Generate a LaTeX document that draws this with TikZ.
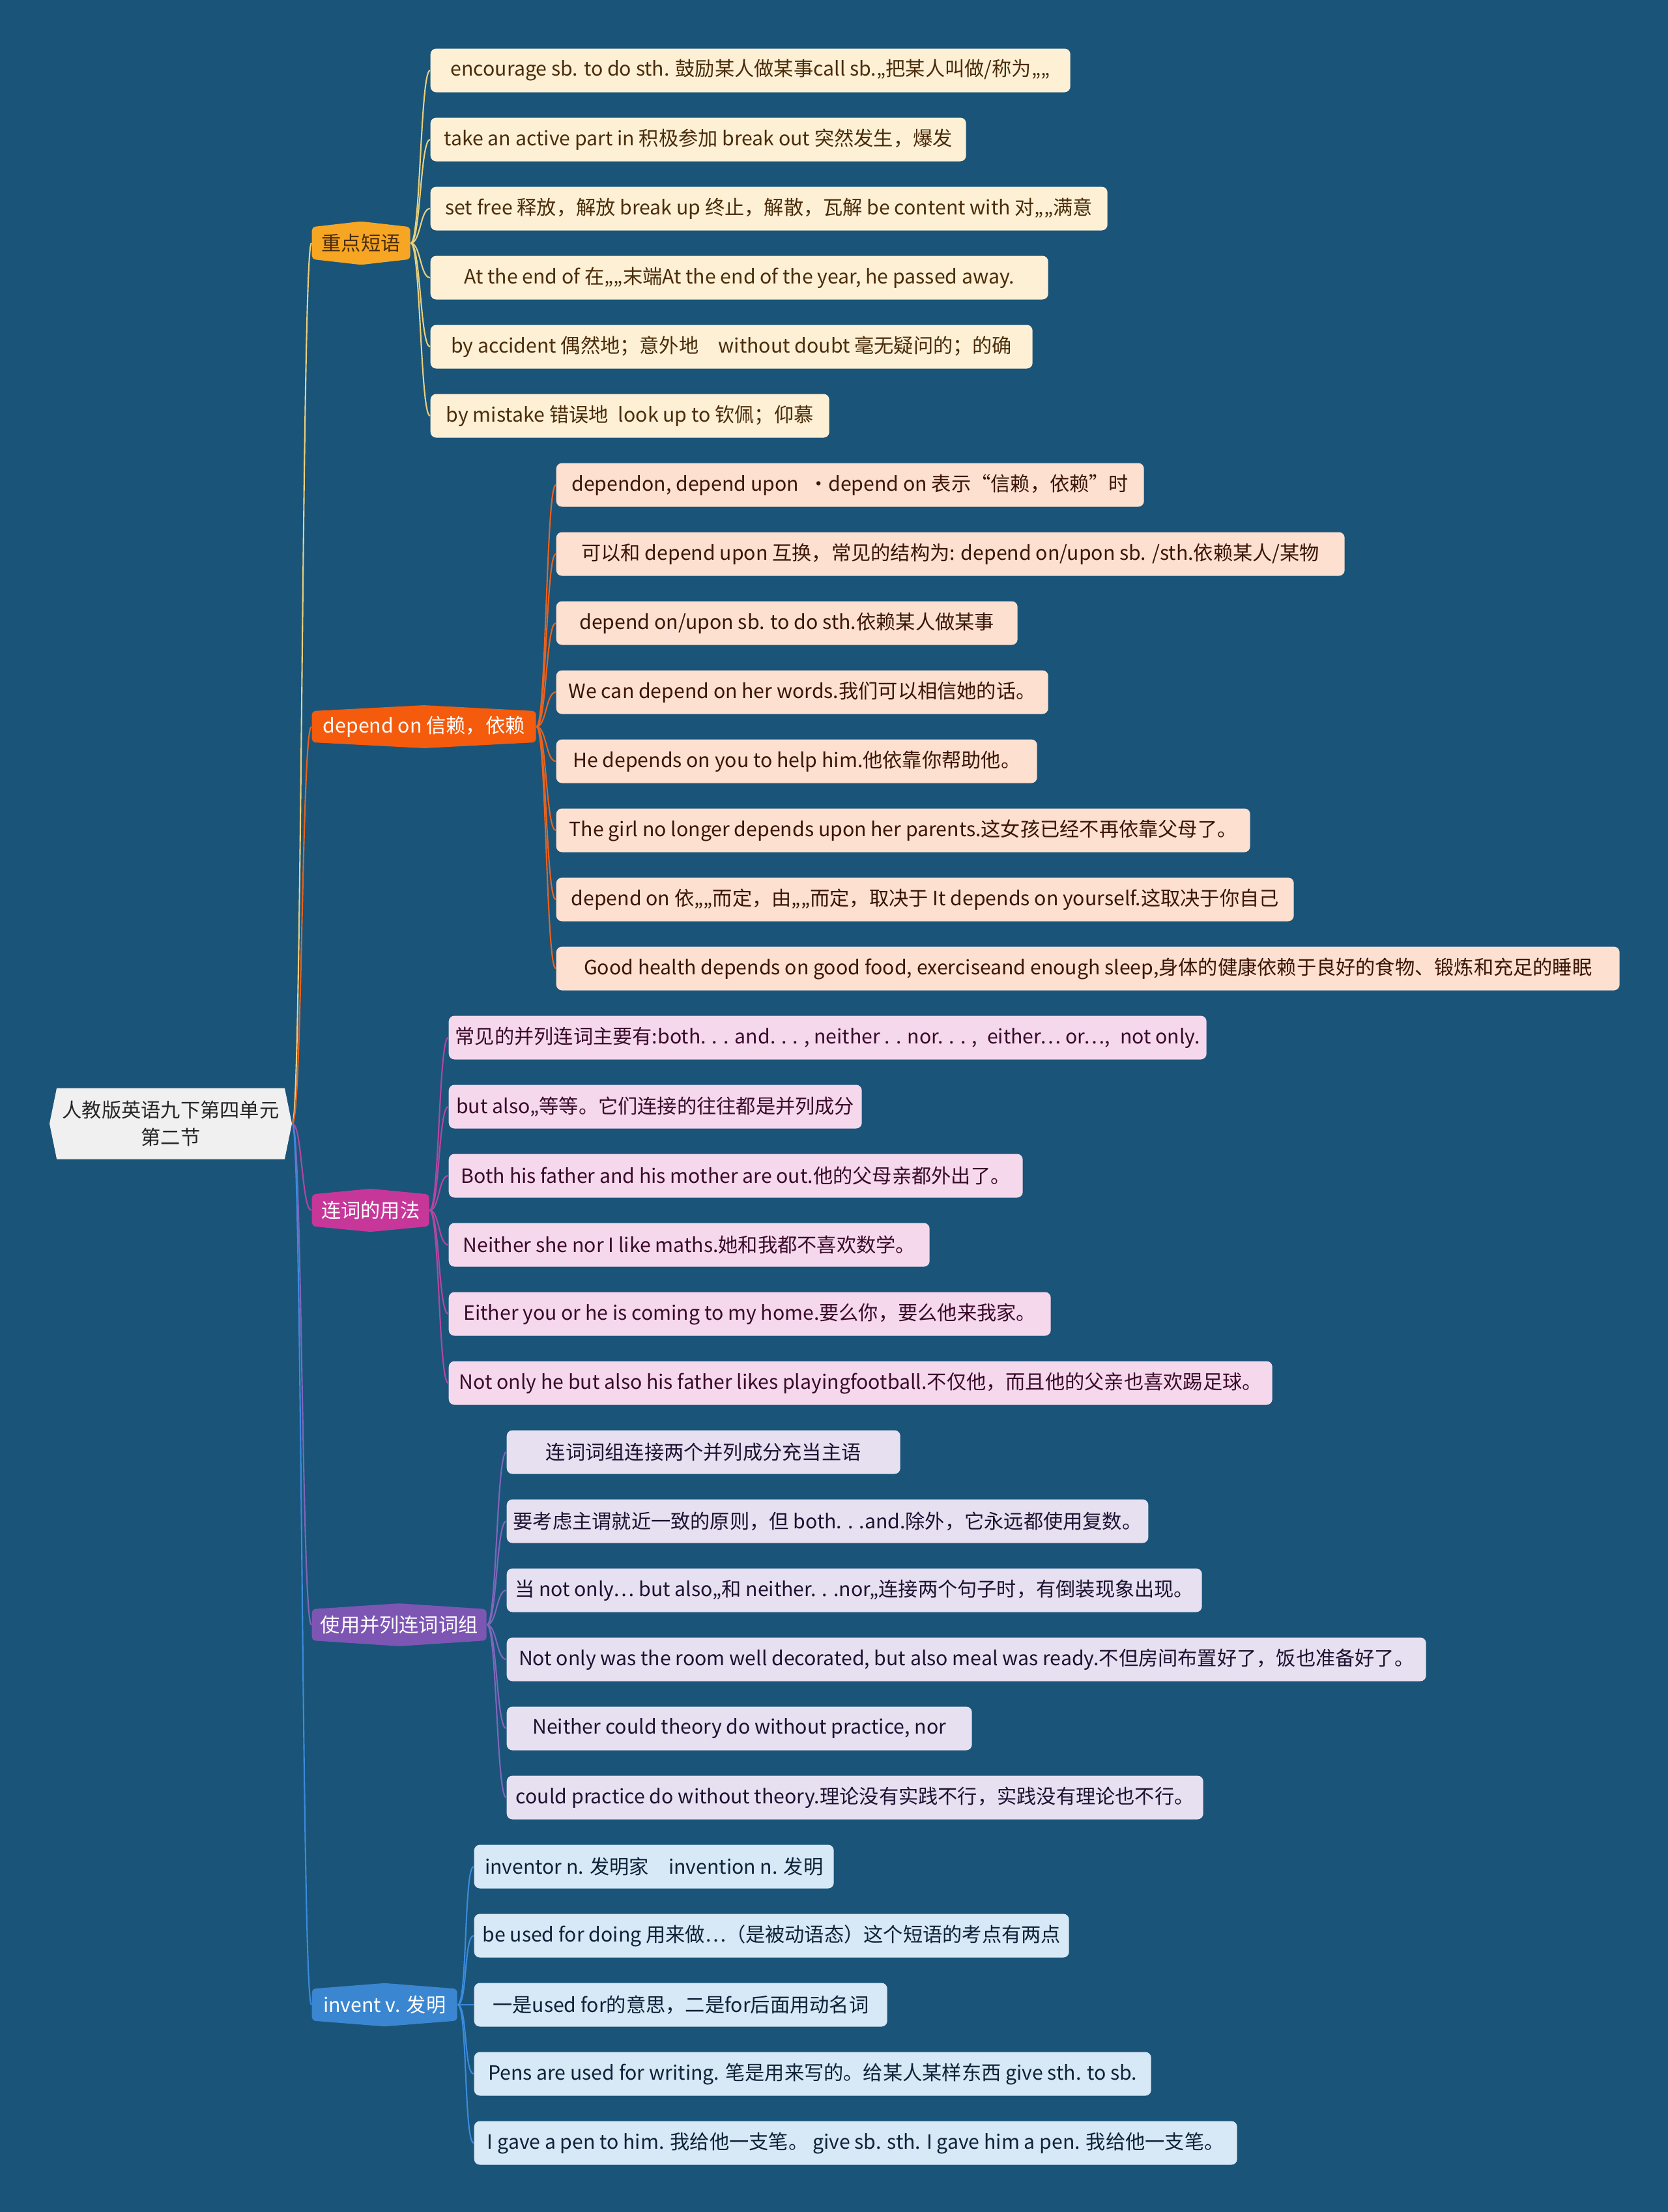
\documentclass[tikz,border=0pt]{standalone}
\usepackage{fontspec}
\setmainfont{Noto Sans CJK SC}
\usepackage{xcolor}
\usetikzlibrary{shapes.symbols, backgrounds}

\definecolor{bgblue}{HTML}{1A5479}
\definecolor{rootgray}{HTML}{F0F0F0}
\definecolor{cA}{HTML}{F6A623}\definecolor{lA}{HTML}{FDF0D5}\definecolor{tA}{HTML}{4A2C0A}\definecolor{wA}{HTML}{E8CF7E}
\definecolor{cB}{HTML}{F45B0C}\definecolor{lB}{HTML}{FDE0D0}\definecolor{tB}{HTML}{3B1505}\definecolor{wB}{HTML}{E8621F}
\definecolor{cC}{HTML}{C7379A}\definecolor{lC}{HTML}{F5D8EC}\definecolor{tC}{HTML}{3A0A2A}\definecolor{wC}{HTML}{B3479F}
\definecolor{cD}{HTML}{7D56B4}\definecolor{lD}{HTML}{E6E0F1}\definecolor{tD}{HTML}{1D1230}\definecolor{wD}{HTML}{7F66BC}
\definecolor{cE}{HTML}{3B86D0}\definecolor{lE}{HTML}{D7E8F6}\definecolor{tE}{HTML}{0D2238}\definecolor{wE}{HTML}{3B8BDC}

\begin{document}
\begin{tikzpicture}[
    root/.style={signal, signal from=nowhere, signal to=west and east, signal pointer angle=157, fill=rootgray, text=black!85, align=center, minimum width=3.72cm, minimum height=1.09cm, inner sep=0pt, font=\fontsize{8.6}{12}\selectfont},
    topic/.style={signal, signal from=nowhere, signal to=north and south, anchor=west, rounded corners=1.5pt, minimum height=0.65cm, inner xsep=0.08cm, inner ysep=0pt, text=white, font=\fontsize{8.6}{10}\selectfont},
    leaf/.style={rectangle, rounded corners=2.5pt, anchor=west, minimum height=0.67cm, inner xsep=0.1cm, font=\fontsize{8.6}{10}\selectfont},
    leafA/.style={leaf, fill=lA, text=tA}, leafB/.style={leaf, fill=lB, text=tB},
    leafC/.style={leaf, fill=lC, text=tC}, leafD/.style={leaf, fill=lD, text=tD},
    leafE/.style={leaf, fill=lE, text=tE},
    link/.style={draw=#1, line width=0.6pt}]

    % background, fixes the page size
    \fill[bgblue] (0,0) rectangle (25.60,-33.94);

    % root and main topics
    \node[root] (root) at (2.62,-17.24) {人教版英语九下第四单元\\第二节};
    \node[topic, fill=cA, text=tA, signal pointer angle=167, minimum width=1.51cm] (phr) at (4.78,-3.73) {重点短语};
    \node[topic, fill=cB, signal pointer angle=174, minimum width=3.44cm] (dep) at (4.78,-11.15) {depend on 信赖，依赖};
    \node[topic, fill=cC, signal pointer angle=169, minimum width=1.80cm] (conj) at (4.78,-18.57) {连词的用法};
    \node[topic, fill=cD, signal pointer angle=172.5, minimum width=2.68cm] (pair) at (4.78,-24.93) {使用并列连词词组};
    \node[topic, fill=cE, signal pointer angle=171, minimum width=2.23cm] (inv) at (4.78,-30.76) {invent v. 发明};

    \draw[link=wA] (root.east) .. controls +(0.15,0) and +(-0.15,0) .. (phr.west);
    \draw[link=wB] (root.east) .. controls +(0.15,0) and +(-0.15,0) .. (dep.west);
    \draw[link=wC] (root.east) .. controls +(0.15,0) and +(-0.15,0) .. (conj.west);
    \draw[link=wD] (root.east) .. controls +(0.15,0) and +(-0.15,0) .. (pair.west);
    \draw[link=wE] (root.east) .. controls +(0.15,0) and +(-0.15,0) .. (inv.west);

    % 重点短语
    \node[leafA, minimum width=9.82cm] (phr1) at (6.60,-1.08) {encourage sb. to do sth. 鼓励某人做某事call sb.„把某人叫做/称为„„};
    \node[leafA, minimum width=8.22cm] (phr2) at (6.60,-2.14) {take an active part in 积极参加 break out 突然发生，爆发};
    \node[leafA, minimum width=10.39cm] (phr3) at (6.60,-3.20) {set free 释放，解放 break up 终止，解散，瓦解 be content with 对„„满意};
    \node[leafA, minimum width=9.48cm] (phr4) at (6.60,-4.26) {At the end of 在„„末端At the end of the year, he passed away.};
    \node[leafA, minimum width=9.24cm] (phr5) at (6.60,-5.32) {by accident 偶然地；意外地\quad without doubt 毫无疑问的；的确};
    \node[leafA, minimum width=6.12cm] (phr6) at (6.60,-6.38) {by mistake 错误地\enspace look up to 钦佩；仰慕};
    \draw[link=wA] (phr.east) .. controls +(0.15,0) and +(-0.15,0) .. (phr1.west);
    \draw[link=wA] (phr.east) .. controls +(0.15,0) and +(-0.15,0) .. (phr2.west);
    \draw[link=wA] (phr.east) .. controls +(0.15,0) and +(-0.15,0) .. (phr3.west);
    \draw[link=wA] (phr.east) .. controls +(0.15,0) and +(-0.15,0) .. (phr4.west);
    \draw[link=wA] (phr.east) .. controls +(0.15,0) and +(-0.15,0) .. (phr5.west);
    \draw[link=wA] (phr.east) .. controls +(0.15,0) and +(-0.15,0) .. (phr6.west);

    % depend on
    \node[leafB, minimum width=9.02cm] (dep1) at (8.53,-7.44) {dependon, depend upon\enspace·depend on 表示“信赖，依赖”时};
    \node[leafB, minimum width=12.10cm] (dep2) at (8.53,-8.50) {可以和 depend upon 互换，常见的结构为: depend on/upon sb. /sth.依赖某人/某物};
    \node[leafB, minimum width=7.08cm] (dep3) at (8.53,-9.56) {depend on/upon sb. to do sth.依赖某人做某事};
    \node[leafB, minimum width=7.55cm] (dep4) at (8.53,-10.62) {We can depend on her words.我们可以相信她的话。};
    \node[leafB, minimum width=7.38cm] (dep5) at (8.53,-11.68) {He depends on you to help him.他依靠你帮助他。};
    \node[leafB, minimum width=10.65cm] (dep6) at (8.53,-12.74) {The girl no longer depends upon her parents.这女孩已经不再依靠父母了。};
    \node[leafB, minimum width=11.32cm] (dep7) at (8.53,-13.80) {depend on 依„„而定，由„„而定，取决于 It depends on yourself.这取决于你自己};
    \node[leafB, minimum width=16.32cm] (dep8) at (8.53,-14.86) {Good health depends on good food, exerciseand enough sleep,身体的健康依赖于良好的食物、锻炼和充足的睡眠};
    \draw[link=wB] (dep.east) .. controls +(0.15,0) and +(-0.15,0) .. (dep1.west);
    \draw[link=wB] (dep.east) .. controls +(0.15,0) and +(-0.15,0) .. (dep2.west);
    \draw[link=wB] (dep.east) .. controls +(0.15,0) and +(-0.15,0) .. (dep3.west);
    \draw[link=wB] (dep.east) .. controls +(0.15,0) and +(-0.15,0) .. (dep4.west);
    \draw[link=wB] (dep.east) .. controls +(0.15,0) and +(-0.15,0) .. (dep5.west);
    \draw[link=wB] (dep.east) .. controls +(0.15,0) and +(-0.15,0) .. (dep6.west);
    \draw[link=wB] (dep.east) .. controls +(0.15,0) and +(-0.15,0) .. (dep7.west);
    \draw[link=wB] (dep.east) .. controls +(0.15,0) and +(-0.15,0) .. (dep8.west);

    % 连词的用法
    \node[leafC, minimum width=11.58cm] (conj1) at (6.88,-15.92) {常见的并列连词主要有:both. . . and. . . , neither . . nor. . . ,\enspace either… or…,\enspace not only.};
    \node[leafC, minimum width=6.34cm] (conj2) at (6.88,-16.98) {but also„等等。它们连接的往往都是并列成分};
    \node[leafC, minimum width=8.81cm] (conj3) at (6.88,-18.04) {Both his father and his mother are out.他的父母亲都外出了。};
    \node[leafC, minimum width=7.38cm] (conj4) at (6.88,-19.10) {Neither she nor I like maths.她和我都不喜欢数学。};
    \node[leafC, minimum width=9.24cm] (conj5) at (6.88,-20.16) {Either you or he is coming to my home.要么你，要么他来我家。};
    \node[leafC, minimum width=12.64cm] (conj6) at (6.88,-21.22) {Not only he but also his father likes playingfootball.不仅他，而且他的父亲也喜欢踢足球。};
    \draw[link=wC] (conj.east) .. controls +(0.15,0) and +(-0.15,0) .. (conj1.west);
    \draw[link=wC] (conj.east) .. controls +(0.15,0) and +(-0.15,0) .. (conj2.west);
    \draw[link=wC] (conj.east) .. controls +(0.15,0) and +(-0.15,0) .. (conj3.west);
    \draw[link=wC] (conj.east) .. controls +(0.15,0) and +(-0.15,0) .. (conj4.west);
    \draw[link=wC] (conj.east) .. controls +(0.15,0) and +(-0.15,0) .. (conj5.west);
    \draw[link=wC] (conj.east) .. controls +(0.15,0) and +(-0.15,0) .. (conj6.west);

    % 使用并列连词词组
    \node[leafD, minimum width=6.04cm] (pair1) at (7.77,-22.28) {连词词组连接两个并列成分充当主语};
    \node[leafD, minimum width=9.82cm] (pair2) at (7.77,-23.34) {要考虑主谓就近一致的原则，但 both. . .and.除外，它永远都使用复数。};
    \node[leafD, minimum width=10.67cm] (pair3) at (7.77,-24.40) {当 not only… but also„和 neither. . .nor„连接两个句子时，有倒装现象出现。};
    \node[leafD, minimum width=14.11cm] (pair4) at (7.77,-25.46) {Not only was the room well decorated, but also meal was ready.不但房间布置好了，饭也准备好了。};
    \node[leafD, minimum width=7.14cm] (pair5) at (7.77,-26.52) {Neither could theory do without practice, nor};
    \node[leafD, minimum width=10.69cm] (pair6) at (7.77,-27.58) {could practice do without theory.理论没有实践不行，实践没有理论也不行。};
    \draw[link=wD] (pair.east) .. controls +(0.15,0) and +(-0.15,0) .. (pair1.west);
    \draw[link=wD] (pair.east) .. controls +(0.15,0) and +(-0.15,0) .. (pair2.west);
    \draw[link=wD] (pair.east) .. controls +(0.15,0) and +(-0.15,0) .. (pair3.west);
    \draw[link=wD] (pair.east) .. controls +(0.15,0) and +(-0.15,0) .. (pair4.west);
    \draw[link=wD] (pair.east) .. controls +(0.15,0) and +(-0.15,0) .. (pair5.west);
    \draw[link=wD] (pair.east) .. controls +(0.15,0) and +(-0.15,0) .. (pair6.west);

    % invent v.
    \node[leafE, minimum width=5.52cm] (inv1) at (7.27,-28.64) {inventor n. 发明家\quad invention n. 发明};
    \node[leafE, minimum width=9.13cm] (inv2) at (7.27,-29.70) {be used for doing 用来做…（是被动语态）这个短语的考点有两点};
    \node[leafE, minimum width=6.34cm] (inv3) at (7.27,-30.76) {一是used for的意思，二是for后面用动名词};
    \node[leafE, minimum width=10.39cm] (inv4) at (7.27,-31.82) {Pens are used for writing. 笔是用来写的。给某人某样东西 give sth. to sb.};
    \node[leafE, minimum width=11.71cm] (inv5) at (7.27,-32.88) {I gave a pen to him. 我给他一支笔。 give sb. sth. I gave him a pen. 我给他一支笔。};
    \draw[link=wE] (inv.east) .. controls +(0.15,0) and +(-0.15,0) .. (inv1.west);
    \draw[link=wE] (inv.east) .. controls +(0.15,0) and +(-0.15,0) .. (inv2.west);
    \draw[link=wE] (inv.east) .. controls +(0.15,0) and +(-0.15,0) .. (inv3.west);
    \draw[link=wE] (inv.east) .. controls +(0.15,0) and +(-0.15,0) .. (inv4.west);
    \draw[link=wE] (inv.east) .. controls +(0.15,0) and +(-0.15,0) .. (inv5.west);
\end{tikzpicture}
\end{document}
